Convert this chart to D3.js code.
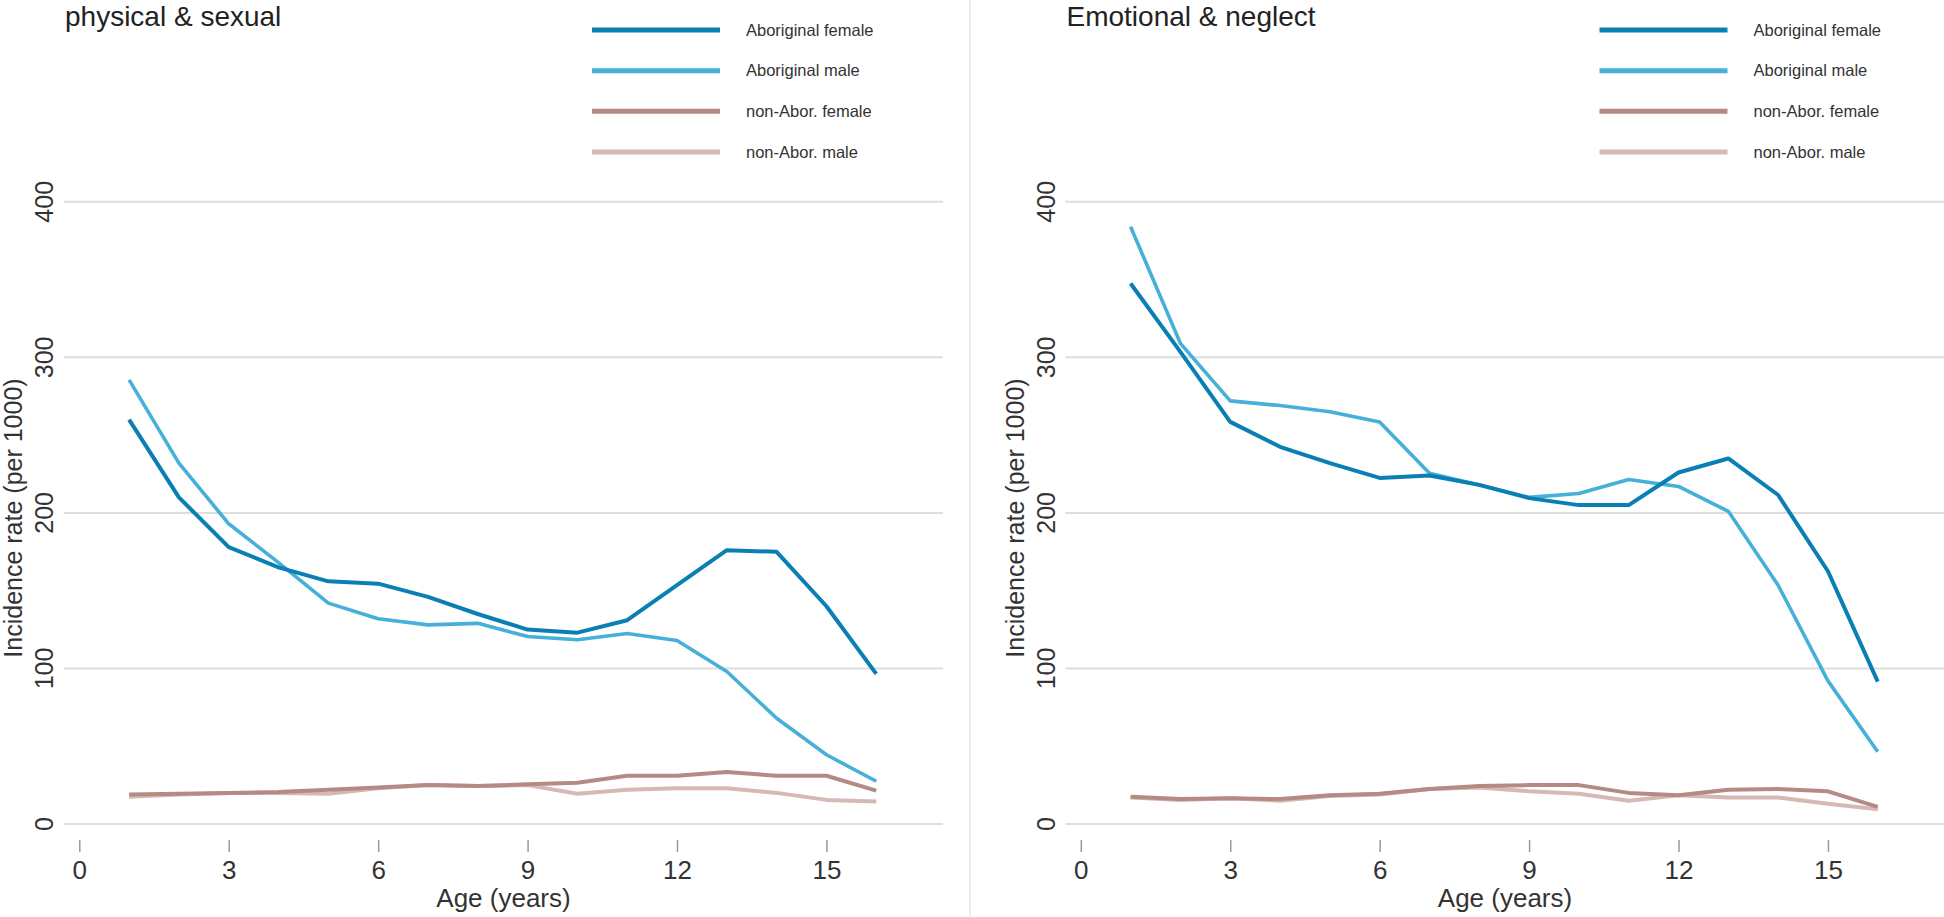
<!DOCTYPE html>
<html>
<head>
<meta charset="utf-8">
<script src="https://cdn.jsdelivr.net/npm/d3@7"></script>
<style>
  html, body { margin: 0; padding: 0; background: #fff; }
  svg { display: block; }
  text { font-family: "Liberation Sans", Arial, sans-serif; }
</style>
</head>
<body>
<svg id="chart" width="1944" height="917"></svg>
<script>
// ---------- data ----------
const ages = [1, 2, 3, 4, 5, 6, 7, 8, 9, 10, 11, 12, 13, 14, 15, 16];
const seriesNames = ["Aboriginal female", "Aboriginal male", "non-Abor. female", "non-Abor. male"];
const panelTitles = ["physical & sexual", "Emotional & neglect"];
const xTicks = [0, 3, 6, 9, 12, 15];
const yTicks = [0, 100, 200, 300, 400];

// physical & sexual
const psAborFemale = [260, 210, 178, 165, 156, 154.5, 146, 135, 125, 123, 131, 153.5, 176, 175, 140, 96.5];
const psAborMale   = [285.5, 232, 193, 168, 142, 132, 128, 129, 120.5, 118.5, 122.5, 118, 98, 68, 44.5, 27.5];
const psNonFemale  = [19, 19.5, 20, 20.5, 22, 23.5, 25, 24.5, 25.5, 26.5, 31, 31, 33.5, 31, 31, 21.5];
const psNonMale    = [17.5, 19, 20, 20, 19.5, 23, 25, 24.5, 25, 19.5, 22, 23, 23, 20, 15.5, 14.5];

// emotional & neglect
const enAborFemale = [347.5, 303.5, 258.5, 242.5, 232, 222.5, 224, 218, 209.5, 205, 205, 226, 235, 211.5, 162.5, 91.5];
const enAborMale   = [384, 309, 272, 269, 265, 258.5, 225.5, 218, 210, 212.5, 221.5, 217, 201, 153.5, 92, 46.5];
const enNonFemale  = [17.5, 16, 16.5, 16, 18.5, 19.5, 22.5, 24.5, 25, 25, 20, 18.5, 22, 22.5, 21, 11];
const enNonMale    = [17, 15.5, 16.5, 15, 18, 19, 22.5, 23.5, 21, 19.5, 15, 18.5, 17, 17, 13, 9.5];

// ---------- styling ----------
const colors = ["#0a7fb4", "#46b0d8", "#b58a84", "#d6b8b4"];
const widths = [4, 3.6, 4, 4];

const panels = [
  { title: panelTitles[0], series: [psAborFemale, psAborMale, psNonFemale, psNonMale], dx: 0, legendDx: 0 },
  { title: panelTitles[1], series: [enAborFemale, enAborMale, enNonFemale, enNonMale], dx: 1001.5, legendDx: 6 }
];

const svg = d3.select("#chart");

// divider
svg.append("line")
  .attr("x1", 970).attr("x2", 970).attr("y1", 0).attr("y2", 917)
  .attr("stroke", "#e4f1f1").attr("stroke-width", 2);

panels.forEach(p => {
  const g = svg.append("g").attr("transform", `translate(${p.dx},0)`);
  const x = d3.scaleLinear().domain([-0.307, 17.34]).range([64, 943]);
  const y = d3.scaleLinear().domain([0, 400]).range([824, 201.8]);

  // gridlines
  g.append("g").selectAll("line").data(yTicks).join("line")
    .attr("x1", x.range()[0]).attr("x2", x.range()[1])
    .attr("y1", d => y(d)).attr("y2", d => y(d))
    .attr("stroke", "#dedede").attr("stroke-width", 2);

  // y tick labels (rotated)
  g.append("g").selectAll("text").data(yTicks).join("text")
    .attr("transform", d => `translate(53,${y(d)}) rotate(-90)`)
    .attr("text-anchor", "middle")
    .attr("font-size", 25).attr("fill", "#333")
    .text(d => d);

  // x axis
  const xAxis = d3.axisBottom(x).tickValues(xTicks).tickSize(12).tickPadding(9);
  const ax = g.append("g").attr("transform", "translate(0,840)").call(xAxis);
  ax.select(".domain").remove();
  ax.selectAll(".tick line").attr("stroke", "#999").attr("stroke-width", 1.5);
  ax.selectAll(".tick text").attr("font-size", 26).attr("fill", "#333")
    .attr("font-family", "'Liberation Sans', Arial, sans-serif");

  // axis titles
  g.append("text")
    .attr("x", (x.range()[0] + x.range()[1]) / 2).attr("y", 907)
    .attr("text-anchor", "middle").attr("font-size", 26).attr("fill", "#333")
    .text("Age (years)");
  g.append("text")
    .attr("transform", `translate(22,518) rotate(-90)`)
    .attr("text-anchor", "middle").attr("font-size", 25).attr("fill", "#333")
    .text("Incidence rate (per 1000)");

  // panel title
  g.append("text")
    .attr("x", 65).attr("y", 26)
    .attr("font-size", 28).attr("fill", "#222")
    .text(p.title);

  // lines (draw non-Aboriginal first, Aboriginal on top)
  const line = d3.line().x((d, i) => x(ages[i])).y(d => y(d));
  [3, 2, 1, 0].forEach(k => {
    g.append("path")
      .datum(p.series[k])
      .attr("d", line)
      .attr("fill", "none")
      .attr("stroke", colors[k])
      .attr("stroke-width", widths[k])
      .attr("stroke-linejoin", "round");
  });

  // legend
  const lg = g.append("g").attr("transform", `translate(${p.legendDx},0)`);
  const rowY = d3.scaleLinear().domain([0, 3]).range([30, 152]);
  seriesNames.forEach((name, k) => {
    lg.append("line")
      .attr("x1", 592).attr("x2", 720)
      .attr("y1", rowY(k)).attr("y2", rowY(k))
      .attr("stroke", colors[k]).attr("stroke-width", 5);
    lg.append("text")
      .attr("x", 746).attr("y", rowY(k)).attr("dy", "0.35em")
      .attr("font-size", 16.5).attr("fill", "#333")
      .text(name);
  });
});
</script>
</body>
</html>
